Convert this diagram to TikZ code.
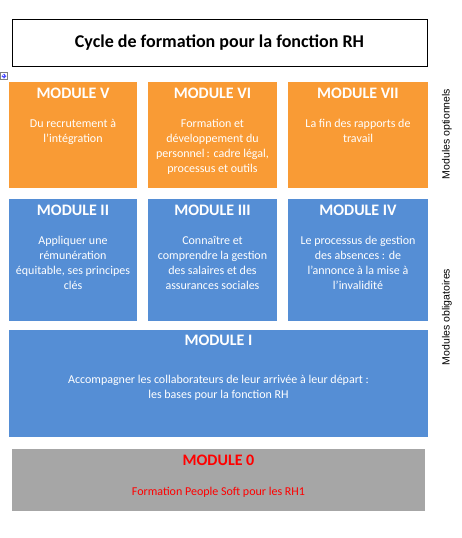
\documentclass[tikz,border=0pt]{standalone}
\usepackage{fontspec}
\setmainfont{Carlito}
\newfontfamily\sidefont{Liberation Sans}
\usepackage{xcolor}
\usepackage{tikz}
\usetikzlibrary{calc,arrows.meta}

\definecolor{optorange}{HTML}{F99B35}
\definecolor{oblblue}{HTML}{558ED5}
\definecolor{basegrey}{HTML}{A6A6A6}

\begin{document}
\begin{tikzpicture}[
		x=1pt,y=-1pt,
		font=\fontsize{12}{15}\selectfont,
		modbox/.style={rectangle,inner sep=0pt,outer sep=0pt},
		opt/.style={modbox,fill=optorange,minimum height=106pt,minimum width=#1},
		opt/.default=128pt,
		obl/.style={modbox,fill=oblblue,minimum height=122pt,minimum width=#1},
		obl/.default=128pt,
		head/.style={inner sep=0pt,text=white,font=\fontsize{16}{19}\selectfont\bfseries},
		body/.style={inner sep=0pt,anchor=north,align=center,text=white},
		side/.style={rotate=90,inner sep=0pt,font=\sidefont\fontsize{10.5}{12}\selectfont}
		]
		\useasboundingbox (0,0) rectangle (461,538);

		\node[modbox,draw=black,line width=0.9pt,minimum width=415pt,minimum height=47pt,
			font=\fontsize{18}{21}\selectfont\bfseries] (title) at (219.5,42.5) {Cycle de formation pour la fonction RH};

		\node[modbox,draw=gray,fill=white,line width=0.4pt,minimum size=7pt] (handle) at (4,76) {};
		\draw[blue!70,line width=0.5pt,{Straight Barb[length=1pt]}-{Straight Barb[length=1pt]}] ($(handle.west)+(1,0)$) -- ($(handle.east)+(-1,0)$);
		\draw[blue!70,line width=0.5pt,{Straight Barb[length=1pt]}-{Straight Barb[length=1pt]}] ($(handle.north)+(0,1)$) -- ($(handle.south)+(0,-1)$);

		\node[opt] (m5) at (73,135) {};
		\node[opt=129pt] (m6) at (212.5,135) {};
		\node[opt=140pt] (m7) at (358,135) {};
		\node[obl] (m2) at (73,260) {};
		\node[obl=129pt] (m3) at (212.5,260) {};
		\node[obl=140pt] (m4) at (358,260) {};
		\node[modbox,fill=oblblue,minimum width=419pt,minimum height=107pt] (m1) at (218.5,383.5) {};
		\node[modbox,fill=basegrey,minimum width=413pt,minimum height=62pt] (m0) at (218.5,480) {};

		\node[head] (m5h) at ($(m5.north)+(0,11)$) {MODULE V};
		\node[head] (m6h) at ($(m6.north)+(0,11)$) {MODULE VI};
		\node[head] (m7h) at ($(m7.north)+(0,11)$) {MODULE VII};
		\node[head] (m2h) at ($(m2.north)+(0,11)$) {MODULE II};
		\node[head] (m3h) at ($(m3.north)+(0,11)$) {MODULE III};
		\node[head] (m4h) at ($(m4.north)+(0,11)$) {MODULE IV};
		\node[head] (m1h) at ($(m1.north)+(0,10)$) {MODULE I};
		\node[head,text=red] (m0h) at ($(m0.north)+(0,11)$) {MODULE 0};

		\node[body] (m5t) at ($(m5.north)+(0,37)$) {Du recrutement à\\l’intégration};
		\node[body] (m6t) at ($(m6.north)+(0,37)$) {Formation et\\développement du\\personnel\,: cadre légal,\\processus et outils};
		\node[body] (m7t) at ($(m7.north)+(0,37)$) {La fin des rapports de\\travail};
		\node[body] (m2t) at ($(m2.north)+(0,37)$) {Appliquer une\\rémunération\\équitable, ses principes\\clés};
		\node[body] (m3t) at ($(m3.north)+(0,37)$) {Connaître et\\comprendre la gestion\\des salaires et des\\assurances sociales};
		\node[body] (m4t) at ($(m4.north)+(0,37)$) {Le processus de gestion\\des absences : de\\l’annonce à la mise à\\l’invalidité};
		\node[body] (m1t) at ($(m1.north)+(0,45)$) {Accompagner les collaborateurs de leur arrivée à leur départ :\\les bases pour la fonction RH};
		\node[body,text=red] (m0t) at ($(m0.north)+(0,38)$) {Formation People Soft pour les RH1};

		\node[side] (optlab) at (447,134) {Modules optionnels};
		\node[side] (obllab) at (447,317) {Modules obligatoires};
	\end{tikzpicture}
\end{document}
